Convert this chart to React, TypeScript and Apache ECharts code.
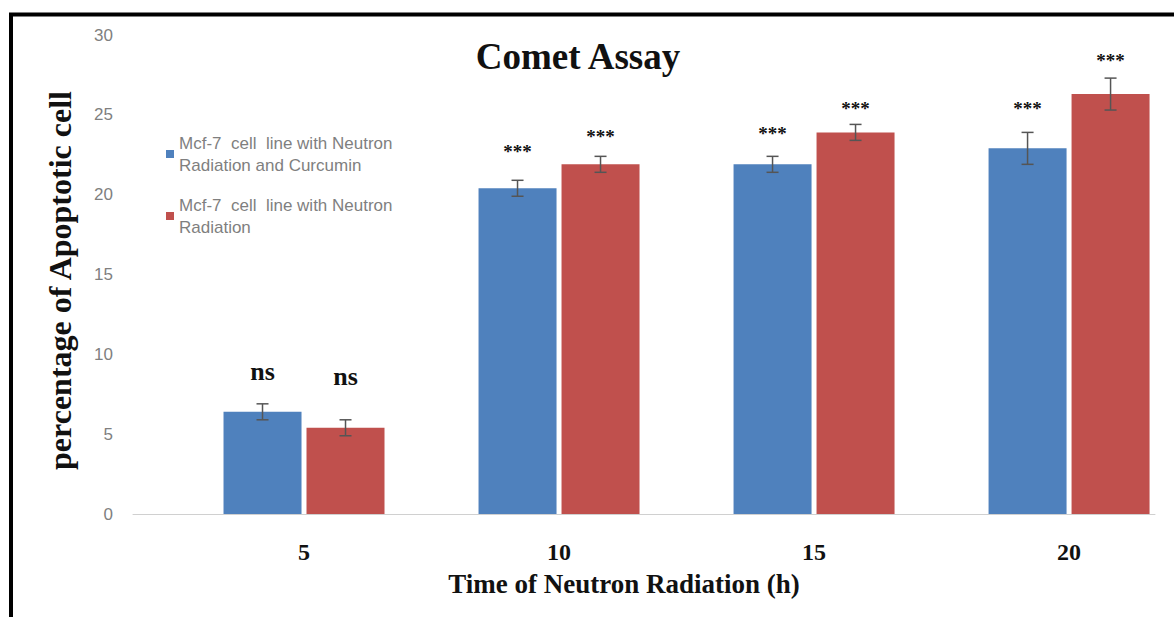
import React, { useEffect, useRef } from "react";
import * as echarts from "echarts";

const categories = ["5", "10", "15", "20"];
const seriesNames = [
  "Mcf-7  cell  line with Neutron\nRadiation and Curcumin",
  "Mcf-7  cell  line with Neutron\nRadiation",
];
const curcuminValues = [6.4, 20.4, 21.9, 22.9];
const curcuminErrors = [0.5, 0.5, 0.5, 1.0];
const radiationValues = [5.4, 21.9, 23.9, 26.3];
const radiationErrors = [0.5, 0.5, 0.5, 1.0];
const curcuminMarks = ["ns", "***", "***", "***"];
const radiationMarks = ["ns", "***", "***", "***"];
const curcuminMarkY = [8.9, 22.9, 24.0, 25.6];
const radiationMarkY = [8.6, 23.8, 25.6, 28.6];
const yMin = 0;
const yMax = 30;
const yStep = 5;

const BLUE = "#4f81bd";
const RED = "#c0504d";
const BAR_W = 78;
const GAP = 5;
const HALF = (BAR_W + GAP) / 2;

function errorSeries(values: number[], errors: number[], offset: number) {
  return {
    type: "custom",
    z: 5,
    silent: true,
    data: values.map((v, i) => [i, v, errors[i]]),
    encode: { x: 0, y: 1 },
    renderItem: (params: any, api: any) => {
      const x = api.value(0);
      const v = api.value(1);
      const e = api.value(2);
      const top = api.coord([x, v + e]);
      const bot = api.coord([x, v - e]);
      const cx = top[0] + offset;
      const style = { stroke: "#555555", lineWidth: 1.5 };
      return {
        type: "group",
        children: [
          { type: "line", shape: { x1: cx, y1: top[1], x2: cx, y2: bot[1] }, style },
          { type: "line", shape: { x1: cx - 6, y1: top[1], x2: cx + 6, y2: top[1] }, style },
          { type: "line", shape: { x1: cx - 6, y1: bot[1], x2: cx + 6, y2: bot[1] }, style },
        ],
      };
    },
  };
}

function markSeries(marks: string[], ys: number[], offset: number) {
  return {
    type: "custom",
    z: 6,
    silent: true,
    data: ys.map((y, i) => [i, y]),
    encode: { x: 0, y: 1 },
    renderItem: (params: any, api: any) => {
      const p = api.coord([api.value(0), api.value(1)]);
      const text = marks[params.dataIndex];
      const isNs = text === "ns";
      return {
        type: "text",
        x: p[0] + offset,
        y: p[1] + (isNs ? 0 : 3),
        style: {
          text,
          fontFamily: "Liberation Serif",
          fontWeight: "bold",
          fontSize: isNs ? 26 : 19,
          fill: "#111",
          align: "center",
          verticalAlign: "middle",
        },
      };
    },
  };
}

export default function App() {
  const ref = useRef<HTMLDivElement>(null);
  useEffect(() => {
    if (!ref.current) return;
    const chart = echarts.init(ref.current, undefined, { renderer: "svg" });
    chart.setOption({
      animation: false,
      backgroundColor: "#ffffff",
      title: {
        text: "Comet Assay",
        left: 578,
        top: 38,
        padding: 0,
        textAlign: "center",
        textStyle: {
          fontFamily: "Liberation Serif",
          fontWeight: "bold",
          fontSize: 37,
          color: "#111",
        },
      },
      legend: {
        orient: "vertical",
        left: 166,
        top: 121,
        padding: 0,
        itemGap: -4,
        itemWidth: 8,
        itemHeight: 8,
        icon: "rect",
        data: seriesNames,
        textStyle: {
          fontFamily: "Liberation Sans",
          fontSize: 17,
          color: "#7f7f7f",
          lineHeight: 22,
          padding: [22, 0, 0, 0],
        },
      },
      grid: { left: 133, right: 19, top: 35, bottom: 103, containLabel: false },
      xAxis: {
        type: "value",
        min: -0.6706,
        max: 3.337,
        splitLine: { show: false },
        axisLine: { show: true, onZero: false, lineStyle: { color: "#d0d0d0", width: 1 } },
        axisTick: { show: false },
        axisLabel: {
          customValues: [0, 1, 2, 3],
          formatter: (v: number) => categories[Math.round(v)] ?? "",
          margin: 26,
          fontFamily: "Liberation Serif",
          fontWeight: "bold",
          fontSize: 24,
          color: "#111",
        },
        name: "Time of Neutron Radiation (h)",
        nameLocation: "middle",
        nameGap: 56,
        nameTextStyle: {
          fontFamily: "Liberation Serif",
          fontWeight: "bold",
          fontSize: 27,
          color: "#111",
          padding: [0, 40, 0, 0],
        },
      },
      yAxis: {
        type: "value",
        min: yMin,
        max: yMax,
        interval: yStep,
        axisLine: { show: false, onZero: false },
        axisTick: { show: false },
        splitLine: { show: false },
        axisLabel: {
          margin: 20,
          fontFamily: "Liberation Sans",
          fontSize: 17,
          color: "#7f7f7f",
        },
        name: "percentage of Apoptotic cell",
        nameLocation: "middle",
        nameGap: 57,
        nameTextStyle: {
          fontFamily: "Liberation Serif",
          fontWeight: "bold",
          fontSize: 32,
          color: "#111",
          padding: [0, 12, 0, 0],
        },
      },
      graphic: [
        {
          type: "polyline",
          silent: true,
          shape: { points: [[11, 700], [11, 14.5], [1200, 14.5]] },
          style: { stroke: "#000", lineWidth: 4, fill: "none" },
        },
      ],
      series: [
        {
          name: seriesNames[0],
          type: "bar",
          barWidth: BAR_W,
          barGap: ((GAP / BAR_W) * 100).toFixed(1) + "%",
          itemStyle: { color: BLUE },
          data: curcuminValues.map((v, i) => [i, v]),
        },
        {
          name: seriesNames[1],
          type: "bar",
          barWidth: BAR_W,
          barGap: ((GAP / BAR_W) * 100).toFixed(1) + "%",
          itemStyle: { color: RED },
          data: radiationValues.map((v, i) => [i, v]),
        },
        errorSeries(curcuminValues, curcuminErrors, -HALF),
        errorSeries(radiationValues, radiationErrors, HALF),
        markSeries(curcuminMarks, curcuminMarkY, -HALF),
        markSeries(radiationMarks, radiationMarkY, HALF),
      ],
    });
    return () => chart.dispose();
  }, []);
  return (
    <div
      ref={ref}
      style={{ position: "absolute", left: 0, top: 0, width: 1174, height: 617, background: "#fff" }}
    />
  );
}
